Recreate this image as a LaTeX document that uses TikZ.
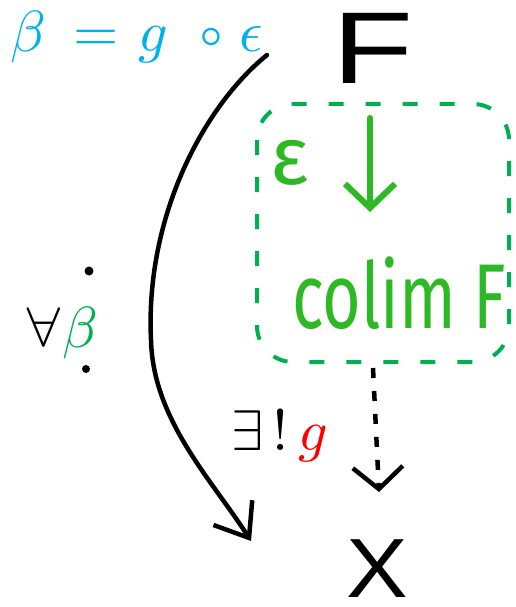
\documentclass[tikz,border=0pt]{standalone}
\usepackage{fontspec}
\usepackage{unicode-math}
\usetikzlibrary{arrows.meta}
\newfontfamily\hand{Fira Sans}
\newfontfamily\blackhand{Liberation Sans}
\definecolor{topcyan}{RGB}{0,176,240}
\definecolor{boxgreen}{RGB}{0,176,80}
\definecolor{handgreen}{RGB}{45,185,35}
\definecolor{exred}{RGB}{255,0,0}
\tikzset{
  lbl/.style={inner sep=0pt, outer sep=0pt, anchor=base west},
  handtxt/.style={lbl, font=\hand},
  dashbox/.style={draw=boxgreen, line width=4pt, rounded corners=36pt, dash pattern=on 15pt off 22pt},
  curvearrow/.style={line width=4.5pt, line cap=round, line join=round, -{Straight Barb[length=30pt, width=46pt, line width=4.5pt]}},
  greenarrow/.style={draw=handgreen, line width=6pt, line cap=round, -{Straight Barb[length=24pt, width=50pt, line width=6pt]}},
  dotarrow/.style={line width=4.5pt, dash pattern=on 10pt off 13pt, -{Straight Barb[length=22pt, width=50pt, line width=4.5pt]}},
}
\begin{document}
\begin{tikzpicture}[x=1pt,y=-1pt]
\useasboundingbox (0,0) rectangle (516,607);
% top formula
\node[lbl, text=topcyan, font=\fontsize{58}{62}\selectfont] (eq) at (10,52) {$\beta\:=\mkern1mu g\:\mkern2mu\circ\mkern1mu\epsilon$};
% F
\node[handtxt, font=\blackhand\fontsize{102}{110}\selectfont, xscale=1.3, transform shape] (F) at (332,84) {F};
% dashed box
\draw[dashbox] (257,104) rectangle (509,362);
\node[coordinate] (boxbot) at (373,368) {};
% epsilon and arrow
\node[handtxt, text=handgreen, font=\hand\fontsize{82}{86}\selectfont] (eps) at (270,184) {ε};
\node[coordinate] (ga) at (370,118) {};
\node[coordinate] (gb) at (370,212) {};
\draw[greenarrow] (ga) -- (gb);
% colim F
\node[handtxt, text=handgreen, font=\hand\fontsize{92}{96}\selectfont, xscale=0.72, transform shape] (colim) at (292,328) {colim F};
% X
\node[handtxt, font=\blackhand\fontsize{84}{90}\selectfont, xscale=1.1, transform shape] (X) at (346,597) {X};
% curved arrow
\coordinate (cs) at (267,55);
\coordinate (cm) at (151,340);
\coordinate (ce) at (251,541);
\draw[curvearrow] (cs) .. controls (205,105) and (145,215) .. (cm)
                       .. controls (153,420) and (212,480) .. (ce);
% forall beta
\fill (89,271) circle[radius=4.5pt];
\fill (86,369) circle[radius=4pt];
\node[lbl, font=\fontsize{58}{62}\selectfont] (fa) at (24,347) {$\forall\textcolor{boxgreen}{\beta}$};
% exists ! g
\node[lbl, font=\fontsize{58}{62}\selectfont] (ex) at (231,450) {$\exists\,!\,\textcolor{exred}{g}$};
% dotted arrow
\node[coordinate] (xt) at (379,492) {};
\draw[dotarrow] (boxbot) -- (xt);
\end{tikzpicture}
\end{document}
